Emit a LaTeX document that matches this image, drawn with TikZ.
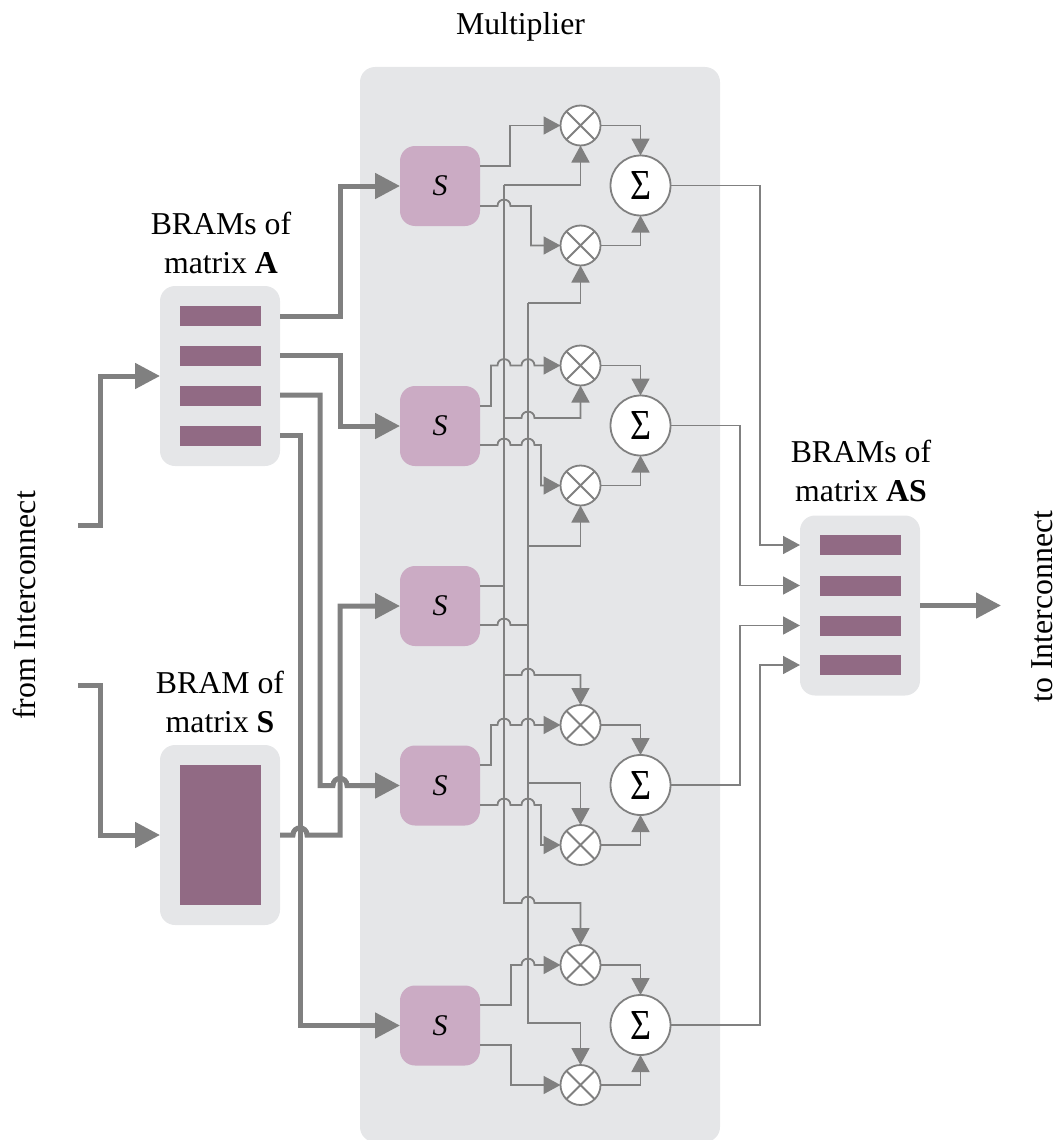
\documentclass[tikz,border=0pt]{standalone}
\usepackage{fontspec}
\setmainfont{Liberation Serif}
\usepackage{graphicx}
\usetikzlibrary{arrows.meta}
\definecolor{linegray}{HTML}{808080}
\definecolor{panelgray}{HTML}{E5E6E8}
\definecolor{spink}{HTML}{CBABC4}
\definecolor{barpurple}{HTML}{916A84}
\newcommand{\hp}[2]{-- ({#1-6.5},#2) .. controls ({#1-6.5},{#2-8.5}) and ({#1+6.5},{#2-8.5}) .. ({#1+6.5},#2)}
\newcommand{\hpT}[2]{-- ({#1-7},#2) .. controls ({#1-7},{#2-9.5}) and ({#1+7},{#2-9.5}) .. ({#1+7},#2)}
\tikzset{
  every node/.style={outer sep=0pt,inner sep=0pt},
  lbl/.style={font=\fontsize{31.8}{39}\selectfont,align=center,text=black},
  box/.style={fill=panelgray,rounded corners=15pt,minimum width=120pt,minimum height=180pt},
  panelbox/.style={fill=panelgray,rounded corners=15pt,minimum width=360pt,minimum height=1075pt},
  bar/.style={fill=barpurple,minimum width=81pt,minimum height=20pt},
  sbox/.style={fill=spink,rounded corners=15pt,minimum width=80pt,minimum height=80pt,font=\fontsize{30}{36}\selectfont\itshape},
  mulc/.style={circle,draw=linegray,fill=white,line width=1.8pt,minimum size=40pt},
  sumc/.style={circle,draw=linegray,fill=white,line width=1.8pt,minimum size=60pt},
  thin wire/.style={draw=linegray,line width=1.8pt},
  wire/.style={thin wire,-{Triangle[length=17pt,width=18pt]}},
  fat wire/.style={draw=linegray,line width=5pt},
  fat/.style={fat wire,-{Triangle[length=25pt,width=25pt]}},
}
\begin{document}
\begin{tikzpicture}[x=1pt,y=-1pt]
\useasboundingbox (0,0) rectangle (1058,1140);
\node[panelbox] (panel) at (540,604.5) {};
\node[lbl] (multlbl) at (520.5,27) {Multiplier};
% BRAM A
\node[box] (bramA) at (220,376) {};
\foreach \n/\y in {1/316,2/356,3/396,4/436} \node[bar] (a\n) at (220.5,\y) {};
\node[lbl] (lblA) at (221,243) {BRAMs of\\matrix \textbf{A}};
% BRAM S
\node[box] (bramS) at (220,835) {};
\node[bar,minimum height=140pt] (sbar) at (220.5,835) {};
\node[lbl] (lblS) at (220,702) {BRAM of\\matrix \textbf{S}};
% BRAM AS
\node[box] (bramAS) at (860,605.5) {};
\foreach \n/\y in {1/545,2/585.5,3/625.5,4/665} \node[bar] (o\n) at (860.5,\y) {};
\node[lbl] (lblAS) at (861,471) {BRAMs of\\matrix \textbf{AS}};
% side labels
\node[lbl,rotate=90] (fromlbl) at (24,605.5) {from Interconnect};
\node[lbl,rotate=90] (tolbl) at (1042,606.5) {to Interconnect};
% S nodes
\foreach \n/\y/\u/\d in {1/186/166/206,2/426/406/445,3/606/586/625,4/785.5/765/805,5/1025.5/1005/1045} {
  \node[sbox] (s\n) at (440,\y) {S};
  \coordinate (s\n u) at (480,\u);
  \coordinate (s\n d) at (480,\d);
}
% multipliers
\foreach \n/\y in {1/125.5,2/245.5,3/365.5,4/485.5,5/725,6/845,7/965,8/1085} {
  \node[mulc] (m\n) at (580.5,\y) {};
  \draw[draw=linegray,line width=1.8pt] (m\n.45) -- (m\n.225) (m\n.135) -- (m\n.315);
}
% sums
\foreach \n/\y in {1/185.5,2/425.5,3/785,4/1025} {
  \node[sumc] (sum\n) at (640.5,\y) {\resizebox{21pt}{28pt}{Σ}};
}
% free ends
\coordinate (inA) at (78,525);
\coordinate (inS) at (78,685);
\coordinate (aout1) at (280,316);
\coordinate (aout2) at (280,355);
\coordinate (aout3) at (280,395);
\coordinate (aout4) at (280,435);
\coordinate (sout) at (280,835);
\coordinate (oin1) at (800,545);
\coordinate (oin2) at (800,585.5);
\coordinate (oin3) at (800,625.5);
\coordinate (oin4) at (800,665);
% thick wires
\draw[fat] (inA) -- (100,525) -- (100,376) -- (bramA.west);
\draw[fat] (inS) -- (100,685) -- (100,835) -- (bramS.west);
\draw[fat] (aout1) -- (340,316) -- (340,186) -- (s1.west);
\draw[fat] (aout2) -- (340,355) -- (340,426) -- (s2.west);
\draw[fat] (aout4) -- (300,435) -- (300,1025.5) -- (s5.west);
\draw[fat] (sout) \hpT{300}{835} -- (340,835) -- (340,606) -- (s3.west);
\draw[fat] (aout3) -- (320,395) -- (320,785.5) \hpT{340}{785.5} -- (s4.west);
\draw[fat] (bramAS.east) -- (1001,605.5);
% bus 504
\draw[wire] (504,185) -- (504,903) \hp{528}{903} -- (580.5,903) -- (m7.north);
\draw[wire] (504,185) -- (580.5,185) -- (m1.south);
% bus 528
\draw[wire] (528,303) -- (580.5,303) -- (m2.south);
\draw[wire] (528,303) -- (528,1023) -- (580.5,1023) -- (m8.north);
% bus branches
\draw[wire] (504,418) \hp{528}{418} -- (580.5,418) -- (m3.south);
\draw[wire] (528,546) -- (580.5,546) -- (m4.south);
\draw[wire] (504,675) \hp{528}{675} -- (580.5,675) -- (m5.north);
\draw[wire] (528,783) -- (580.5,783) -- (m6.north);
% S outputs
\draw[wire] (s1u) -- (510,166) -- (510,125.5) -- (m1.west);
\draw[wire] (s1d) \hp{504}{206} -- (531,206) -- (531,245.5) -- (m2.west);
\draw[wire] (s2u) -- (491,406) -- (491,365.5) \hp{504}{365.5} \hp{528}{365.5} -- (m3.west);
\draw[wire] (s2d) \hp{504}{445} \hp{528}{445} -- (541,445) -- (541,485.5) -- (m4.west);
\draw[thin wire] (s3u) -- (504,586);
\draw[thin wire] (s3d) \hp{504}{625} -- (528,625);
\draw[wire] (s4u) -- (491,765) -- (491,725) \hp{504}{725} \hp{528}{725} -- (m5.west);
\draw[wire] (s4d) \hp{504}{805} \hp{528}{805} -- (541,805) -- (541,845) -- (m6.west);
\draw[wire] (s5u) -- (511,1005) -- (511,965) \hp{528}{965} -- (m7.west);
\draw[wire] (s5d) -- (511,1045) -- (511,1085) -- (m8.west);
% mult to sum
\draw[wire] (m1.east) -- (640.5,125.5) -- (sum1.north);
\draw[wire] (m2.east) -- (640.5,245.5) -- (sum1.south);
\draw[wire] (m3.east) -- (640.5,365.5) -- (sum2.north);
\draw[wire] (m4.east) -- (640.5,485.5) -- (sum2.south);
\draw[wire] (m5.east) -- (640.5,725) -- (sum3.north);
\draw[wire] (m6.east) -- (640.5,845) -- (sum3.south);
\draw[wire] (m7.east) -- (640.5,965) -- (sum4.north);
\draw[wire] (m8.east) -- (640.5,1085) -- (sum4.south);
% sums to BRAM AS
\draw[wire] (sum1.east) -- (760,185.5) -- (760,545) -- (oin1);
\draw[wire] (sum2.east) -- (740,425.5) -- (740,585.5) -- (oin2);
\draw[wire] (sum3.east) -- (740,785) -- (740,625.5) -- (oin3);
\draw[wire] (sum4.east) -- (760,1025) -- (760,665) -- (oin4);
\end{tikzpicture}
\end{document}
